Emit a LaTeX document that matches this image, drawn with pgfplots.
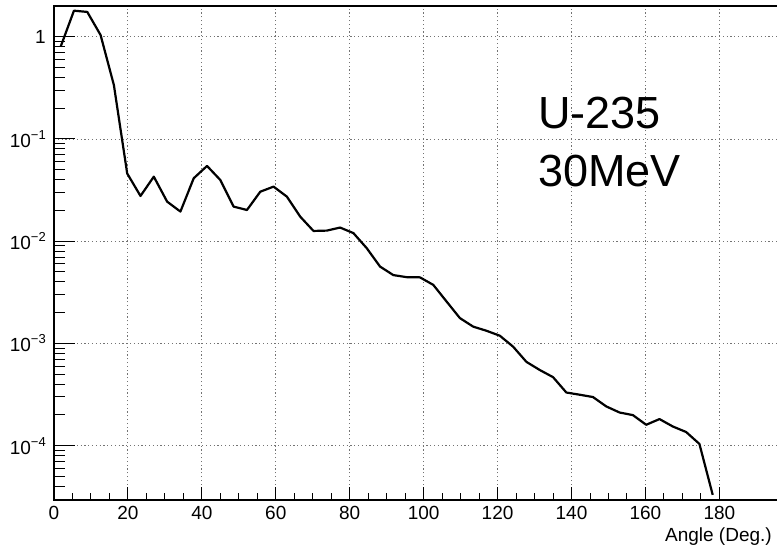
\documentclass[border=0pt]{standalone}
\usepackage{fontspec}
\setmainfont{Liberation Sans}
\usepackage{pgfplots}
\usepackage{pgfplotstable}
\pgfplotsset{compat=1.18}

% tick label font and power-of-ten label with a small raised exponent
\newcommand{\tickfont}{\fontsize{19}{19}\selectfont}
\newcommand{\dec}[1]{10\raisebox{0.42em}{\fontsize{13}{13}\selectfont\textminus#1}}

\pgfplotstableread{
x y
1.8 0.80
5.4 1.80
9.0 1.75
12.6 1.04
16.2 0.337
19.8 0.046
23.4 0.0277
27.0 0.0428
30.6 0.0244
34.2 0.0195
37.8 0.0413
41.4 0.0545
45.0 0.0397
48.6 0.0218
52.2 0.0202
55.8 0.0305
59.4 0.0342
63.0 0.0273
66.6 0.0174
70.2 0.0126
73.8 0.0127
77.4 0.0136
81.0 0.0120
84.6 0.00855
88.2 0.00565
91.8 0.00466
95.4 0.00445
99.0 0.00443
102.6 0.00374
106.2 0.00257
109.8 0.00177
113.4 0.00146
117.0 0.00133
120.6 0.00119
124.2 0.00093
127.8 0.00066
131.4 0.00055
135.0 0.000468
138.6 0.000331
142.2 0.000315
145.8 0.000299
149.4 0.000242
153.0 0.000211
156.6 0.000199
160.2 0.000160
163.8 0.000182
167.4 0.000154
171.0 0.000136
174.6 0.000104
178.2 0.000033
}\angdist

\begin{document}
\begin{tikzpicture}
\useasboundingbox (-54pt,-48pt) rectangle (723pt,500pt);

% main frame: grid, x ticks, tick labels and the distribution
\begin{axis}[
  at={(0,0)}, anchor=south west,
  scale only axis, width=726pt, height=494pt,
  xmin=0, xmax=196.4,
  ymode=log, ymin=2.94e-5, ymax=2.0,
  tick align=inside,
  axis line style={black, line width=1.2pt},
  xtick={0,20,...,180}, minor x tick num=3,
  xticklabels={0,20,40,60,80,100,120,140,160,180},
  xtick pos=bottom, ytick pos=left,
  major tick length=13pt, minor tick length=7pt,
  every tick/.style={black, line width=1pt},
  ytick={1e-4,1e-3,1e-2,1e-1,1},
  yticklabels={\dec4,\dec3,\dec2,\dec1,1},
  ytick style={draw=none},
  grid=major,
  major grid style={black!55, line width=0.9pt, dash pattern=on 1.2pt off 2.6pt},
  xticklabel style={font=\tickfont, inner sep=0pt, anchor=north, yshift=-6pt},
  yticklabel style={font=\tickfont, inner sep=0pt, anchor=east, xshift=-8pt},
]
\addplot[black, line width=2.2pt, line join=round] table[x=x, y=y] {\angdist};
\end{axis}

% longer y ticks on the left side
\begin{axis}[
  at={(0,0)}, anchor=south west,
  scale only axis, width=726pt, height=494pt,
  xmin=0, xmax=196.4,
  ymode=log, ymin=2.94e-5, ymax=2.0,
  tick align=inside,
  axis line style={draw=none},
  xtick=\empty,
  ytick={1e-4,1e-3,1e-2,1e-1,1},
  yticklabels={,,,,},
  minor ytick={3e-5,4e-5,5e-5,6e-5,7e-5,8e-5,9e-5,
               2e-4,3e-4,4e-4,5e-4,6e-4,7e-4,8e-4,9e-4,
               2e-3,3e-3,4e-3,5e-3,6e-3,7e-3,8e-3,9e-3,
               2e-2,3e-2,4e-2,5e-2,6e-2,7e-2,8e-2,9e-2,
               2e-1,3e-1,4e-1,5e-1,6e-1,7e-1,8e-1,9e-1},
  ytick pos=left,
  major tick length=21pt, minor tick length=11pt,
  every tick/.style={black, line width=1pt},
]
\end{axis}

\node[anchor=base west, inner sep=0pt, font=\fontsize{45}{45}\selectfont] at (484pt,371.7pt) {U-235};
\node[anchor=base west, inner sep=0pt, font=\fontsize{45}{45}\selectfont] at (484pt,313.3pt) {30MeV};
\node[anchor=base east, inner sep=0pt, font=\fontsize{19}{19}\selectfont] at (718pt,-42pt) {Angle (Deg.)};
\end{tikzpicture}
\end{document}
